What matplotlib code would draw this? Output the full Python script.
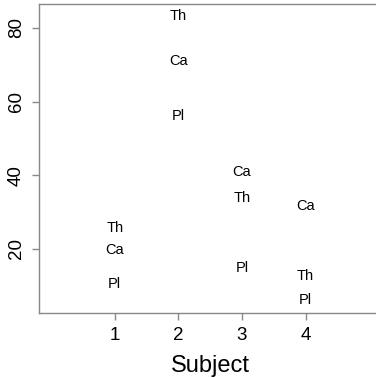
import matplotlib
matplotlib.use("Agg")
import matplotlib.pyplot as plt

plt.rcParams['font.family'] = ['Liberation Sans', 'DejaVu Sans']

subjects = [1, 2, 3, 4]
th = [25.7, 83.3, 33.8, 12.7]
ca = [19.7, 71.0, 40.8, 31.6]
pl = [10.5, 56.1, 14.8, 6.2]

fig = plt.figure(figsize=(3.76, 3.78), dpi=100)
W, H = 376, 378
left, right, top, bottom = 39, 382, 4, 313
ax = fig.add_axes([left / W, 1 - bottom / H, (right - left) / W, (bottom - top) / H])

for s, a, b, c in zip(subjects, th, ca, pl):
    ax.text(s, a, "Th", ha="center", va="center", fontsize=10.5)
    ax.text(s, b, "Ca", ha="center", va="center", fontsize=10.5)
    ax.text(s, c, "Pl", ha="center", va="center", fontsize=10.5)

ax.set_xlim(-0.19, 5.2)
ax.set_ylim(2.6, 86.5)
ax.set_xticks(subjects)
ax.set_yticks([20, 40, 60, 80])
ax.set_yticklabels(["20", "40", "60", "80"], rotation=90, va="center")

for sp in ax.spines.values():
    sp.set_color("#888888")
    sp.set_linewidth(1)
ax.tick_params(colors="#888888", labelcolor="black", labelsize=13.5,
               length=5, width=1, direction="out", pad=5)
ax.set_xlabel("Subject", fontsize=17, labelpad=8)

fig.savefig("out.png", dpi=100)
